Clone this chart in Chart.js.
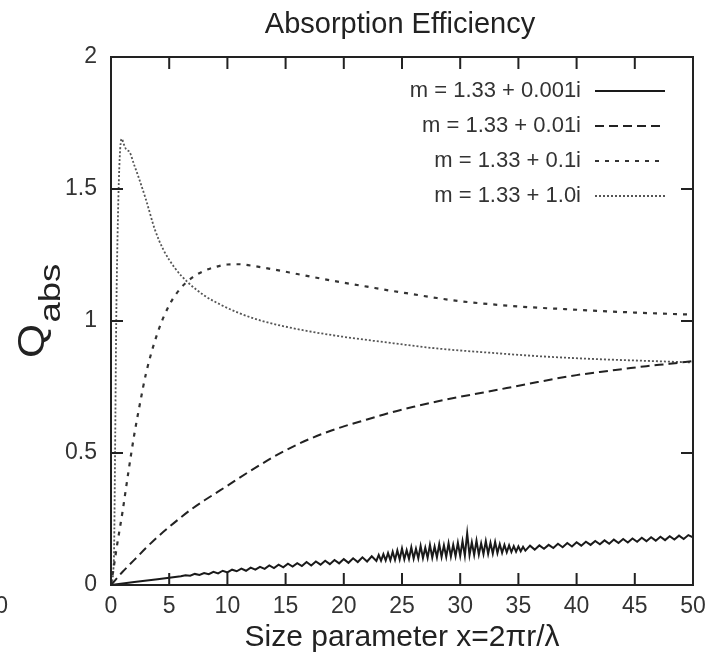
<!DOCTYPE html>
<html>
<head>
<meta charset="utf-8">
<title>Absorption Efficiency</title>
<script src="https://cdn.jsdelivr.net/npm/chart.js@4/dist/chart.umd.min.js"></script>
<style>
    html, body { margin: 0; padding: 0; background: #fff; }
    #wrap { width: 709px; height: 658px; }
</style>
</head>
<body>
<div id="wrap"><canvas id="chartCanvas" width="709" height="658"></canvas></div>
<script>
// Labels
const TITLE = 'Absorption Efficiency';
const X_TITLE = 'Size parameter x=2\u03c0r/\u03bb';
const Y_TITLE_MAIN = 'Q';
const Y_TITLE_SUB = 'abs';
const SERIES_LABELS = ['m = 1.33 + 0.001i', 'm = 1.33 + 0.01i', 'm = 1.33 + 0.1i', 'm = 1.33 + 1.0i'];
const X_TICKS = [0, 5, 10, 15, 20, 25, 30, 35, 40, 45, 50];
const Y_TICKS = [0, 0.5, 1, 1.5, 2];

// m = 1.33 + 0.001i (ripple structure)
const X_0001 = [0, 2, 4,
    6, 6.4, 6.8, 7.2, 7.6, 8, 8.4, 8.8, 9.2, 9.6,
    10, 10.4, 10.8, 11.2, 11.6, 12, 12.4, 12.8, 13.2, 13.6,
    14, 14.4, 14.8, 15.2, 15.6, 16, 16.4, 16.8, 17.2, 17.6,
    18, 18.4, 18.8, 19.2, 19.6, 20, 20.4, 20.8, 21.2, 21.6,
    22, 22.4, 22.8,
    23, 23.2, 23.4, 23.6, 23.8, 24, 24.2, 24.4, 24.6, 24.8,
    25, 25.2, 25.4, 25.6, 25.8, 26, 26.2, 26.4, 26.6, 26.8,
    27, 27.2, 27.4, 27.6, 27.8, 28, 28.2, 28.4, 28.6, 28.8,
    29, 29.2, 29.4, 29.6, 29.8, 30, 30.2, 30.4, 30.6, 30.8,
    31, 31.2, 31.4, 31.6, 31.8, 32, 32.2, 32.4, 32.6, 32.8,
    33, 33.2, 33.4, 33.6, 33.8, 34, 34.2, 34.4, 34.6, 34.8,
    35, 35.2, 35.4,
    35.6, 36, 36.4, 36.8, 37.2, 37.6,
    38, 38.4, 38.8, 39.2, 39.6, 40, 40.4, 40.8, 41.2, 41.6,
    42, 42.4, 42.8, 43.2, 43.6, 44, 44.4, 44.8, 45.2, 45.6,
    46, 46.4, 46.8, 47.2, 47.6, 48, 48.4, 48.8, 49.2, 49.6,
    50];
const Q_0001 = [0, 0.011, 0.022,
    0.033, 0.037, 0.035, 0.042, 0.038, 0.045, 0.041, 0.050, 0.044, 0.054,
    0.048, 0.058, 0.052, 0.062, 0.054, 0.066, 0.058, 0.069, 0.061, 0.074,
    0.064, 0.077, 0.067, 0.081, 0.070, 0.083, 0.072, 0.087, 0.074, 0.089,
    0.077, 0.092, 0.079, 0.095, 0.082, 0.098, 0.084, 0.101, 0.087, 0.105,
    0.089, 0.109, 0.091,
    0.114, 0.092, 0.117, 0.093, 0.121, 0.094, 0.126, 0.095, 0.131, 0.097,
    0.138, 0.098, 0.132, 0.099, 0.143, 0.100, 0.137, 0.101, 0.148, 0.102,
    0.141, 0.103, 0.152, 0.104, 0.146, 0.105, 0.155, 0.106, 0.150, 0.107,
    0.158, 0.108, 0.152, 0.109, 0.160, 0.110, 0.166, 0.111, 0.196, 0.113,
    0.162, 0.114, 0.168, 0.115, 0.158, 0.117, 0.166, 0.118, 0.160, 0.119,
    0.163, 0.121, 0.155, 0.122, 0.152, 0.124, 0.150, 0.125, 0.147, 0.126,
    0.146, 0.128, 0.145,
    0.130, 0.149, 0.134, 0.150, 0.137, 0.152,
    0.140, 0.156, 0.143, 0.159, 0.146, 0.162, 0.149, 0.164, 0.152, 0.167,
    0.154, 0.169, 0.156, 0.172, 0.159, 0.174, 0.161, 0.176, 0.164, 0.179,
    0.166, 0.181, 0.168, 0.183, 0.170, 0.185, 0.172, 0.187, 0.174, 0.189,
    0.180];

// m = 1.33 + 0.01i
const X_001 = [0, 1, 2, 3, 4, 5, 6, 7, 8, 9, 10, 11, 12, 13, 14, 15, 16, 17, 18, 19,
    20, 22, 24, 26, 28, 30, 32, 34, 36, 38, 40, 42, 44, 46, 48, 50];
const Q_001 = [0, 0.05, 0.095, 0.14, 0.182, 0.22, 0.256, 0.29, 0.32, 0.348, 0.376, 0.405,
    0.433, 0.46, 0.486, 0.51, 0.532, 0.552, 0.57, 0.586, 0.601, 0.627, 0.653, 0.675,
    0.695, 0.713, 0.729, 0.746, 0.763, 0.78, 0.795, 0.807, 0.818, 0.829, 0.838, 0.848];

// m = 1.33 + 0.1i
const X_01 = [0, 0.2, 0.5, 1, 1.5, 2, 2.5, 3, 4, 5, 6, 7, 8, 9, 10, 11, 12, 14, 16, 18,
    20, 22, 24, 26, 28, 30, 33, 36, 39, 42, 45, 48, 50];
const Q_01 = [0, 0.057, 0.145, 0.28, 0.43, 0.57, 0.69, 0.8, 0.955, 1.06, 1.125, 1.165,
    1.19, 1.205, 1.214, 1.215, 1.21, 1.195, 1.178, 1.161, 1.145, 1.13, 1.115, 1.101,
    1.087, 1.075, 1.062, 1.052, 1.045, 1.038, 1.032, 1.027, 1.024];

// m = 1.33 + 1.0i
const X_10 = [0, 0.25, 0.35, 0.45, 0.6, 0.75, 0.92, 1.1, 1.3, 1.6, 2, 2.35, 3, 3.78, 4.5,
    5.5, 6.64, 8, 9.5, 11, 13, 16.4, 20, 24, 28, 32.8, 37, 41.5, 46, 50];
const Q_10 = [0, 0.1, 0.5, 1.0, 1.4, 1.62, 1.69, 1.67, 1.65, 1.64, 1.59, 1.547, 1.46,
    1.345, 1.27, 1.2, 1.145, 1.097, 1.06, 1.03, 1.0, 0.966, 0.94, 0.917, 0.896, 0.879,
    0.866, 0.856, 0.849, 0.843];

const FONT = "'Liberation Sans', Arial, sans-serif";
const TICK_LEN = 12;

function toPoints(xs, ys) {
    return xs.map((x, i) => ({ x: x, y: ys[i] }));
}

// Frame + inward ticks on all four sides (gnuplot look)
const frameTicks = {
    id: 'frameTicks',
    afterDatasetsDraw(chart) {
        const { ctx, chartArea: a, scales } = chart;
        ctx.save();
        ctx.strokeStyle = '#222';
        ctx.lineWidth = 2;
        ctx.strokeRect(a.left, a.top, a.right - a.left, a.bottom - a.top);
        ctx.beginPath();
        scales.x.ticks.forEach(t => {
            const px = scales.x.getPixelForValue(t.value);
            ctx.moveTo(px, a.bottom); ctx.lineTo(px, a.bottom - TICK_LEN);
            ctx.moveTo(px, a.top); ctx.lineTo(px, a.top + TICK_LEN);
        });
        scales.y.ticks.forEach(t => {
            const py = scales.y.getPixelForValue(t.value);
            ctx.moveTo(a.left, py); ctx.lineTo(a.left + TICK_LEN, py);
            ctx.moveTo(a.right, py); ctx.lineTo(a.right - TICK_LEN, py);
        });
        ctx.stroke();
        ctx.restore();
    },
    afterDraw(chart) {
        const { ctx } = chart;
        ctx.save();
        ctx.fillStyle = '#222';

        // title
        ctx.font = '29px ' + FONT;
        ctx.textAlign = 'center';
        ctx.textBaseline = 'alphabetic';
        ctx.fillText(TITLE, 400, 33);

        // y title with subscript (glyphs a bit stretched along the text, like the original)
        ctx.translate(44, 310);
        ctx.rotate(-Math.PI / 2);
        ctx.scale(1.22, 1);
        ctx.textAlign = 'left';
        ctx.font = '36px ' + FONT;
        const qw = ctx.measureText(Y_TITLE_MAIN).width;
        const start = -48 / 1.22;
        ctx.fillText(Y_TITLE_MAIN, start, 0);
        ctx.font = '30px ' + FONT;
        ctx.fillText(Y_TITLE_SUB, start + qw + 1, 16);
        ctx.setTransform(1, 0, 0, 1, 0, 0);

        // stray clipped label at the far left
        ctx.fillStyle = '#333';
        ctx.font = '23px ' + FONT;
        ctx.textAlign = 'right';
        ctx.textBaseline = 'middle';
        ctx.fillText('0', 8, 607);

        // legend: right-aligned text, line sample on the right
        ctx.font = '22px ' + FONT;
        chart.data.datasets.forEach((ds, i) => {
            const yy = 91 + i * 35;
            ctx.fillStyle = '#333';
            ctx.textAlign = 'right';
            ctx.textBaseline = 'middle';
            ctx.fillText(ds.label, 581, yy);
            ctx.beginPath();
            ctx.strokeStyle = ds.borderColor;
            ctx.lineWidth = ds.borderWidth;
            ctx.setLineDash(ds.borderDash || []);
            ctx.moveTo(595, yy);
            ctx.lineTo(665, yy);
            ctx.stroke();
            ctx.setLineDash([]);
        });
        ctx.restore();
    }
};

const datasets = [
    { label: SERIES_LABELS[0], data: toPoints(X_0001, Q_0001), borderColor: '#1a1a1a', borderWidth: 2, borderDash: [], tension: 0 },
    { label: SERIES_LABELS[1], data: toPoints(X_001, Q_001), borderColor: '#222', borderWidth: 2, borderDash: [9, 5], cubicInterpolationMode: 'monotone' },
    { label: SERIES_LABELS[2], data: toPoints(X_01, Q_01), borderColor: '#333', borderWidth: 2.2, borderDash: [4, 6], cubicInterpolationMode: 'monotone' },
    { label: SERIES_LABELS[3], data: toPoints(X_10, Q_10), borderColor: '#555', borderWidth: 1.8, borderDash: [2, 2], cubicInterpolationMode: 'monotone' },
];
datasets.forEach(ds => {
    ds.showLine = true;
    ds.pointRadius = 0;
    ds.fill = false;
});

new Chart(document.getElementById('chartCanvas'), {
    type: 'scatter',
    data: { datasets: datasets },
    options: {
        responsive: false,
        animation: false,
        layout: { padding: { top: 57, right: 16, left: 0, bottom: 0 } },
        plugins: {
            legend: { display: false },
            tooltip: { enabled: false },
        },
        scales: {
            x: {
                type: 'linear',
                min: 0,
                max: 50,
                afterBuildTicks: s => { s.ticks = X_TICKS.map(v => ({ value: v })); },
                afterFit: s => { s.height = 73; s.paddingLeft = 0; s.paddingRight = 0; },
                grid: { display: false, drawTicks: false },
                border: { display: false },
                ticks: {
                    font: { family: FONT, size: 23 }, color: '#333', padding: 8, maxRotation: 0,
                    callback: v => String(v),
                },
                title: {
                    display: true,
                    text: X_TITLE,
                    font: { family: FONT, size: 30 },
                    color: '#222',
                    padding: { top: 0, bottom: 2 },
                },
            },
            y: {
                type: 'linear',
                min: 0,
                max: 2,
                afterBuildTicks: s => { s.ticks = Y_TICKS.map(v => ({ value: v })); },
                afterFit: s => { s.width = 111; },
                grid: { display: false, drawTicks: false },
                border: { display: false },
                ticks: {
                    font: { family: FONT, size: 23 }, color: '#333', padding: 14,
                    callback: v => String(v),
                },
            },
        },
    },
    plugins: [frameTicks],
});
</script>
</body>
</html>
